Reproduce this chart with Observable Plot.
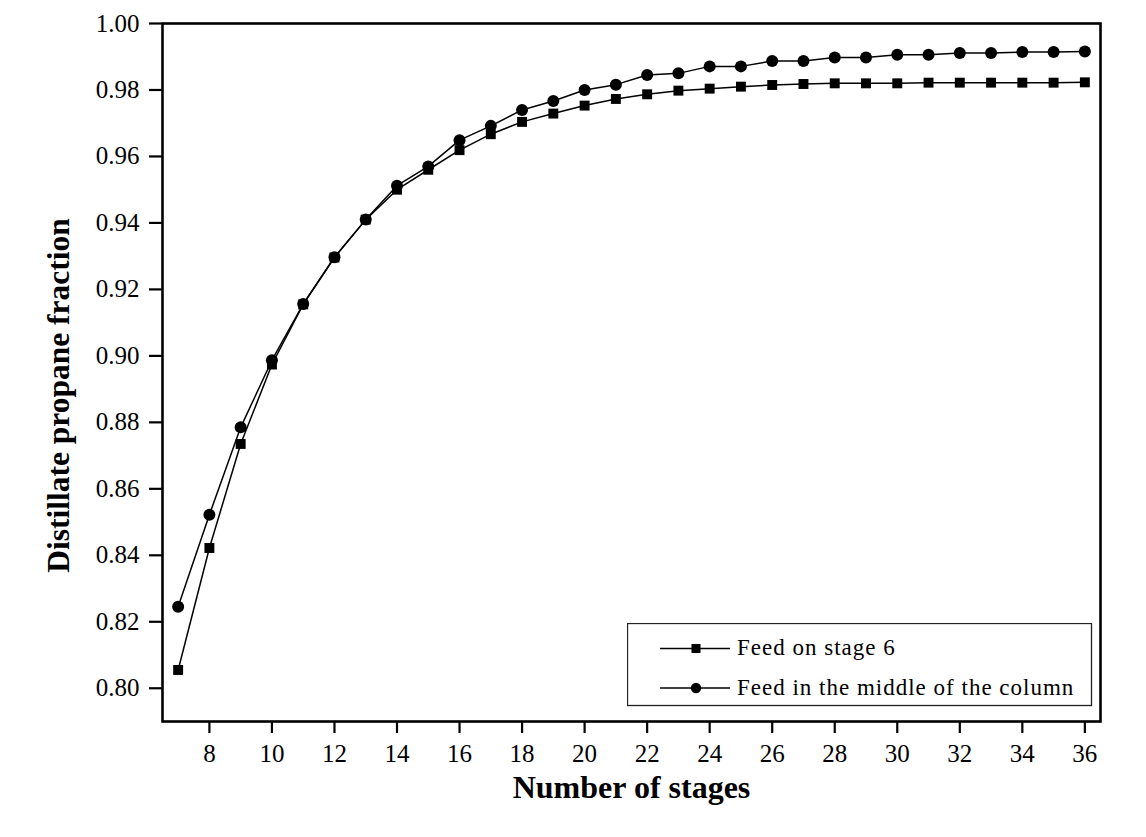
<!DOCTYPE html>
<html>
<head>
<meta charset="utf-8">
<script src="https://cdn.jsdelivr.net/npm/d3@7"></script>
<script src="https://cdn.jsdelivr.net/npm/@observablehq/plot@0.6"></script>
<style>
  body { margin: 0; background: #fff; }
  #wrap { position: relative; width: 1146px; height: 837px; background: #fff; }
  #wrap svg text { font-family: "Liberation Serif", "Times New Roman", serif; }
  #legend { position: absolute; left: 627px; top: 623px; }
</style>
</head>
<body>
<div id="wrap"></div>
<script>
// ---- data ----
const stages = [7, 8, 9, 10, 11, 12, 13, 14, 15, 16, 17, 18, 19, 20, 21, 22, 23, 24, 25, 26, 27, 28, 29, 30, 31, 32, 33, 34, 35, 36];
const feedStage6 = [0.8055, 0.8422, 0.8735, 0.8974, 0.9155, 0.9296, 0.9410, 0.9500, 0.9560, 0.9619, 0.9667, 0.9704, 0.9729, 0.9753, 0.9773, 0.9787, 0.9798, 0.9804, 0.9810, 0.9815, 0.9818, 0.9820, 0.9820, 0.9820, 0.9822, 0.9822, 0.9822, 0.9822, 0.9822, 0.9823];
const feedMiddle = [0.8245, 0.8522, 0.8785, 0.8987, 0.9156, 0.9297, 0.9410, 0.9512, 0.9570, 0.9649, 0.9692, 0.9740, 0.9767, 0.9800, 0.9816, 0.9845, 0.9850, 0.9871, 0.9871, 0.9887, 0.9887, 0.9898, 0.9898, 0.9906, 0.9906, 0.9911, 0.9911, 0.9914, 0.9914, 0.9916];
const seriesNames = ["Feed on stage 6", "Feed in the middle of the column"];
const seriesSymbols = ["square", "circle"];
const xTicks = [8, 10, 12, 14, 16, 18, 20, 22, 24, 26, 28, 30, 32, 34, 36];
const yTicks = [0.80, 0.82, 0.84, 0.86, 0.88, 0.90, 0.92, 0.94, 0.96, 0.98, 1.00];
const xTitle = "Number of stages";
const yTitle = "Distillate propane fraction";

// ---- table ----
const rows = [];
stages.forEach((s, i) => {
  rows.push({stage: s, value: feedStage6[i], series: seriesNames[0]});
  rows.push({stage: s, value: feedMiddle[i], series: seriesNames[1]});
});
const squares = rows.filter(d => d.series === seriesNames[0]);
const circles = rows.filter(d => d.series === seriesNames[1]);

const chart = Plot.plot({
  width: 1146,
  height: 837,
  marginLeft: 162,
  marginRight: 46,
  marginTop: 23,
  marginBottom: 116,
  style: {fontFamily: "Liberation Serif", fontSize: "25px", color: "black", background: "white"},
  x: {domain: [6.5, 36.5]},
  y: {domain: [0.79, 1.0]},
  marks: [
    Plot.line(rows, {x: "stage", y: "value", z: "series", stroke: "black", strokeWidth: 1.5}),
    Plot.dot(squares, {x: "stage", y: "value", symbol: seriesSymbols[0], r: 5.6, fill: "black", stroke: "none"}),
    Plot.dot(circles, {x: "stage", y: "value", symbol: seriesSymbols[1], r: 6, fill: "black", stroke: "none"}),
    Plot.axisX({ticks: xTicks, tickSize: 12, tickPadding: 11, label: null, strokeWidth: 2.2, fontSize: 25}),
    Plot.axisY({ticks: yTicks, tickSize: 13, tickPadding: 10, label: null, strokeWidth: 2.2, fontSize: 25, tickFormat: d3.format(".2f")}),
    Plot.frame({stroke: "black", strokeWidth: 2.6}),
    Plot.text([xTitle], {text: d => d, frameAnchor: "bottom", dy: 66, fontSize: 32, fontWeight: "bold", textAnchor: "middle", lineAnchor: "middle"}),
    Plot.text([yTitle], {text: d => d, frameAnchor: "left", dx: -104, dy: 23, rotate: -90, fontSize: 31.5, fontWeight: "bold", textAnchor: "middle", lineAnchor: "middle"})
  ]
});
document.getElementById("wrap").appendChild(chart);

// ---- legend (inside plot, bottom right) ----
const lw = 464, lh = 82;
const legend = d3.create("svg").attr("id", "legend").attr("width", lw + 2).attr("height", lh + 2);
legend.append("rect").attr("x", 0.5).attr("y", 0.5).attr("width", lw).attr("height", lh)
  .attr("fill", "white").attr("stroke", "#222").attr("stroke-width", 1.3);
seriesNames.forEach((name, i) => {
  const cy = 25.5 + i * 39.5;
  const g = legend.append("g");
  g.append("line").attr("x1", 33).attr("x2", 103).attr("y1", cy).attr("y2", cy)
    .attr("stroke", "black").attr("stroke-width", 1.5);
  g.append("path").attr("transform", `translate(69,${cy})`)
    .attr("d", d3.symbol(seriesSymbols[i] === "square" ? d3.symbolSquare : d3.symbolCircle, i === 0 ? 81 : 85)())
    .attr("fill", "black");
  g.append("text").attr("x", 110).attr("y", cy + 6.5).text(name)
    .attr("font-family", "Liberation Serif, Times New Roman, serif").attr("font-size", 23).attr("letter-spacing", "1px").attr("fill", "black");
});
document.getElementById("wrap").appendChild(legend.node());
</script>
</body>
</html>
